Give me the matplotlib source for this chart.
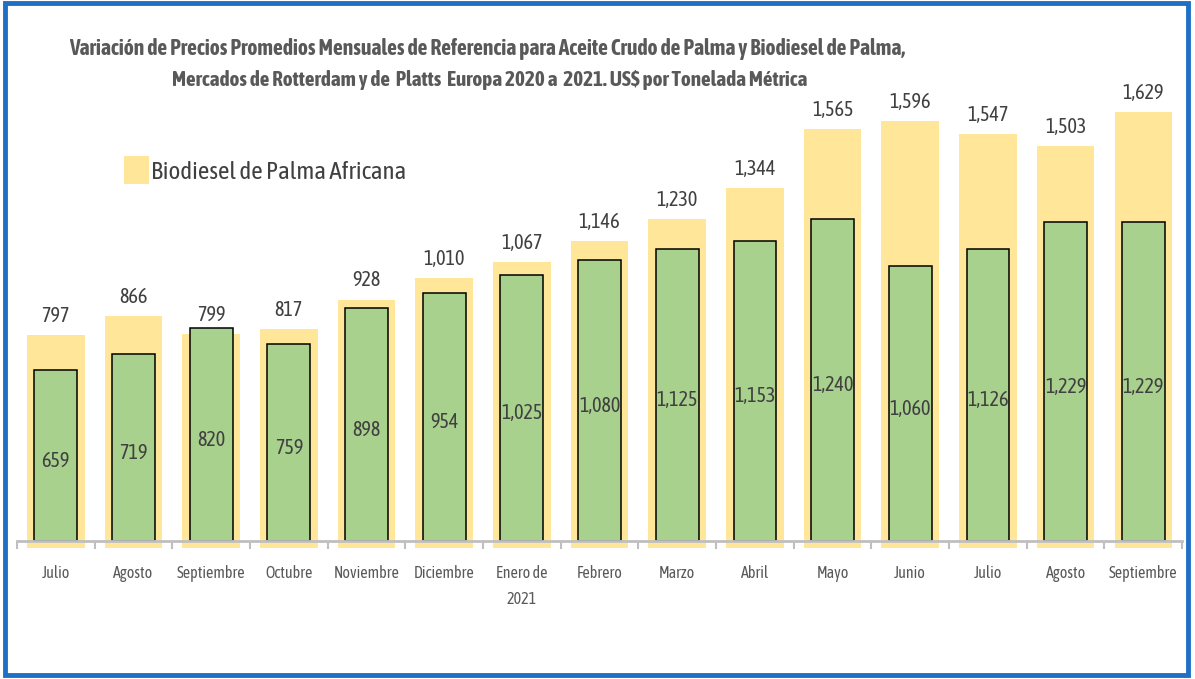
import matplotlib.pyplot as plt
from matplotlib.patches import Rectangle, Patch
import numpy as np

plt.rcParams['font.family'] = ['Asap Condensed', 'DejaVu Sans']

meses = ["Julio", "Agosto", "Septiembre", "Octubre", "Noviembre", "Diciembre",
         "Enero de\n2021", "Febrero", "Marzo", "Abril", "Mayo", "Junio",
         "Julio", "Agosto", "Septiembre"]
biodiesel = [797, 866, 799, 817, 928, 1010, 1067, 1146, 1230, 1344,
             1565, 1596, 1547, 1503, 1629]
aceite_crudo = [659, 719, 820, 759, 898, 954, 1025, 1080, 1125, 1153,
                1240, 1060, 1126, 1229, 1229]

amarillo = "#FFE699"
verde = "#A9D18E"
gris = "#404040"

fig = plt.figure(figsize=(11.95, 6.79), dpi=100)

# marco azul alrededor de la figura
fig.patches.append(Rectangle((0.004, 0.006), 0.990, 0.989, transform=fig.transFigure,
                             fill=False, edgecolor="#1F6FC5", linewidth=3.5))

fig.text(0.408, 0.928, "Variación de Precios Promedios Mensuales de Referencia para Aceite Crudo de Palma y Biodiesel de Palma,",
         ha="center", va="center", fontsize=15.5, fontweight="bold", color="#595959")
fig.text(0.41, 0.882, "Mercados de Rotterdam y de  Platts  Europa 2020 a  2021. US$ por Tonelada Métrica",
         ha="center", va="center", fontsize=15.2, fontweight="bold", color="#595959")

x = np.arange(len(meses))
rect = [0.0142, 0.1753, 0.975, 0.6848]

# eje de fondo: biodiesel (barras anchas amarillas)
ax_bio = fig.add_axes(rect)
ax_bio.set_zorder(1)
barras_bio = ax_bio.bar(x, biodiesel, width=0.74, color=amarillo, zorder=1)
ax_bio.set_ylim(-45, 1692)
ax_bio.set_xlim(-0.5, len(meses) - 0.5)
ax_bio.axis("off")
for b, v in zip(barras_bio, biodiesel):
    ax_bio.annotate(f"{v:,}", (b.get_x() + b.get_width() / 2, v), xytext=(0, 6.5),
                    textcoords="offset points", ha="center", va="bottom",
                    fontsize=14.5, color=gris)

# eje frontal: aceite crudo (barras verdes)
ax = fig.add_axes(rect, sharex=ax_bio)
ax.set_zorder(2)
ax.patch.set_visible(False)
barras = ax.bar(x, aceite_crudo, width=0.55, color=verde, edgecolor="black",
                linewidth=1.1, zorder=2)
ax.set_ylim(-73, 1717)
for b, v in zip(barras, aceite_crudo):
    ax.text(b.get_x() + b.get_width() / 2, v / 2 - 20, f"{v:,}", ha="center", va="center",
            fontsize=14.5, color=gris)

for s in ["top", "left", "right"]:
    ax.spines[s].set_visible(False)
ax.spines["bottom"].set_position(("data", 0))
ax.spines["bottom"].set_color("#BFBFBF")
ax.spines["bottom"].set_linewidth(2)
ax.set_yticks([])
ax.set_xticks(x)
ax.set_xticklabels(meses, fontsize=11.5, color="#595959", linespacing=1.65)
ax.tick_params(axis="x", which="major", length=0, pad=17.5)
ax.set_xticks(np.arange(len(meses) + 1) - 0.5, minor=True)
ax.tick_params(axis="x", which="minor", length=6, width=1.5, color="#BFBFBF")

fig.legend(handles=[Patch(facecolor=amarillo, edgecolor="none")],
           labels=["Biodiesel de Palma Africana"], loc="center left",
           bbox_to_anchor=(0.093, 0.749), frameon=False, fontsize=18,
           labelcolor=gris, handlelength=1.0, handleheight=1.35,
           handletextpad=0.08, borderpad=0)

fig.savefig("out.png", dpi=100)
